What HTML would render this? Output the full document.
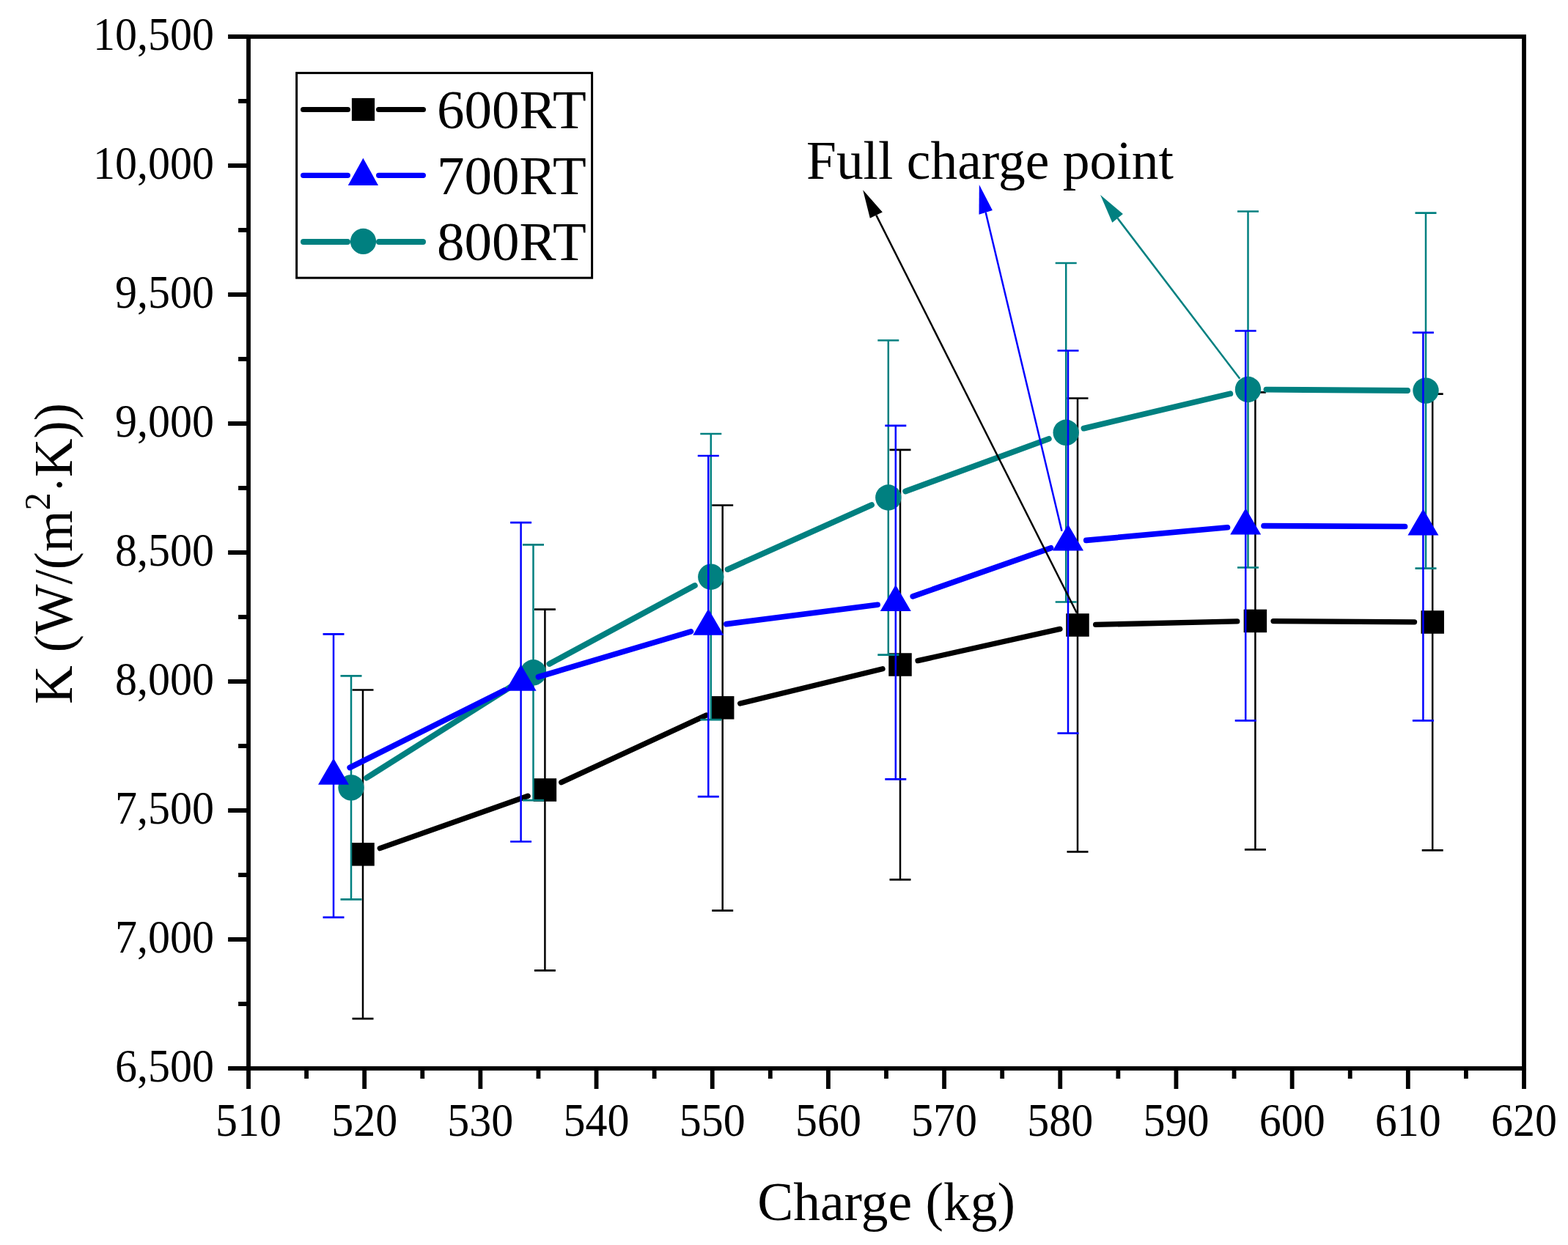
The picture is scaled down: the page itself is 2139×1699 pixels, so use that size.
<!DOCTYPE html>
<html><head><meta charset="utf-8"><title>K vs Charge</title>
<style>html,body{margin:0;padding:0;background:#fff;}body{width:2139px;height:1699px;overflow:hidden;}svg{display:block;}text{font-family:"Liberation Serif","Times New Roman",serif;fill:#000;}</style>
</head><body>
<svg width="2139" height="1699" viewBox="0 0 2139 1699">
<rect x="0" y="0" width="2139" height="1699" fill="#fff"/>
<path d="M518.24 1157.63L720.16 1086.22M765.77 1067.64L963.33 976.16M1009.65 959.99L1204.05 912.81M1252.06 901.63L1445.94 858.37M1494.64 852.43L1687.76 847.97M1737.05 847.56L1929.55 848.84" stroke="#000000" stroke-width="7.3" stroke-linecap="round" fill="none"/>
<rect x="479.25" y="1150.1" width="31.5" height="31.5" fill="#000"/>
<rect x="727.65" y="1062.25" width="31.5" height="31.5" fill="#000"/>
<rect x="969.95" y="950.05" width="31.5" height="31.5" fill="#000"/>
<rect x="1212.25" y="891.25" width="31.5" height="31.5" fill="#000"/>
<rect x="1454.25" y="837.25" width="31.5" height="31.5" fill="#000"/>
<rect x="1696.65" y="831.65" width="31.5" height="31.5" fill="#000"/>
<rect x="1938.45" y="833.25" width="31.5" height="31.5" fill="#000"/>
<path d="M495 941.5L495 1390.2M743.4 831.6L743.4 1324.3M985.7 689.5L985.7 1242.6M1228 613.8L1228 1200.3M1470 543.5L1470 1162.4M1712.4 535.3L1712.4 1159.4M1954.2 537.6L1954.2 1160.4" stroke="#000000" stroke-width="2.5" fill="none"/>
<path d="M480.5 941.5L509.5 941.5M480.5 1390.2L509.5 1390.2M728.9 831.6L757.9 831.6M728.9 1324.3L757.9 1324.3M971.2 689.5L1000.2 689.5M971.2 1242.6L1000.2 1242.6M1213.5 613.8L1242.5 613.8M1213.5 1200.3L1242.5 1200.3M1455.5 543.5L1484.5 543.5M1455.5 1162.4L1484.5 1162.4M1697.9 535.3L1726.9 535.3M1697.9 1159.4L1726.9 1159.4M1939.7 537.6L1968.7 537.6M1939.7 1160.4L1968.7 1160.4" stroke="#000000" stroke-width="2.7" fill="none"/>
<path d="M500.09 1061.52L706.41 931.13M749.46 905.96L947.84 799.04M992.58 777.02L1189.02 689.18M1235.23 670.43L1430.77 598.87M1478.48 584.55L1678.22 537.25M1727.45 531.66L1920.05 532.94" stroke="#008080" stroke-width="7.9" stroke-linecap="round" fill="none"/>
<circle cx="479" cy="1074.85" r="17.7" fill="#008080"/>
<circle cx="727.5" cy="917.8" r="17.7" fill="#008080"/>
<circle cx="969.8" cy="787.2" r="17.7" fill="#008080"/>
<circle cx="1211.8" cy="679" r="17.7" fill="#008080"/>
<circle cx="1454.2" cy="590.3" r="17.7" fill="#008080"/>
<circle cx="1702.5" cy="531.5" r="17.7" fill="#008080"/>
<circle cx="1945" cy="533.1" r="17.7" fill="#008080"/>
<path d="M479 922.4L479 1227.3M727.5 743.4L727.5 1092.2M969.8 592L969.8 982.2M1211.8 464.5L1211.8 893.6M1454.2 359L1454.2 821.5M1702.5 288.5L1702.5 774.5M1945 290.6L1945 775.6" stroke="#008080" stroke-width="2.5" fill="none"/>
<path d="M464.5 922.4L493.5 922.4M464.5 1227.3L493.5 1227.3M713 743.4L742 743.4M713 1092.2L742 1092.2M955.3 592L984.3 592M955.3 982.2L984.3 982.2M1197.3 464.5L1226.3 464.5M1197.3 893.6L1226.3 893.6M1439.7 359L1468.7 359M1439.7 821.5L1468.7 821.5M1688 288.5L1717 288.5M1688 774.5L1717 774.5M1930.5 290.6L1959.5 290.6M1930.5 775.6L1959.5 775.6" stroke="#008080" stroke-width="2.7" fill="none"/>
<path d="M477.22 1047.53L688.38 941.92M734.42 923.72L942.48 861.88M990.95 851.65L1197.15 825.25M1245.25 813.87L1433.55 747.83M1481.75 737.34L1674.45 719.76M1724.05 717.61L1916.55 718.49" stroke="#0000ff" stroke-width="7.7" stroke-linecap="round" fill="none"/>
<path d="M455 1034.65L476 1070.65L434 1070.65Z" fill="#0000ff"/>
<path d="M710.6 906.8L731.6 942.8L689.6 942.8Z" fill="#0000ff"/>
<path d="M966.3 830.8L987.3 866.8L945.3 866.8Z" fill="#0000ff"/>
<path d="M1221.8 798.1L1242.8 834.1L1200.8 834.1Z" fill="#0000ff"/>
<path d="M1457 715.6L1478 751.6L1436 751.6Z" fill="#0000ff"/>
<path d="M1699.2 693.5L1720.2 729.5L1678.2 729.5Z" fill="#0000ff"/>
<path d="M1941.4 694.6L1962.4 730.6L1920.4 730.6Z" fill="#0000ff"/>
<path d="M455 865.4L455 1251.9M710.6 713.1L710.6 1148.5M966.3 622L966.3 1087.2M1221.8 580.8L1221.8 1063.4M1457 478.5L1457 1000.7M1699.2 451.5L1699.2 983.4M1941.4 453.8L1941.4 983.4" stroke="#0000ff" stroke-width="2.5" fill="none"/>
<path d="M440.5 865.4L469.5 865.4M440.5 1251.9L469.5 1251.9M696.1 713.1L725.1 713.1M696.1 1148.5L725.1 1148.5M951.8 622L980.8 622M951.8 1087.2L980.8 1087.2M1207.3 580.8L1236.3 580.8M1207.3 1063.4L1236.3 1063.4M1442.5 478.5L1471.5 478.5M1442.5 1000.7L1471.5 1000.7M1684.7 451.5L1713.7 451.5M1684.7 983.4L1713.7 983.4M1926.9 453.8L1955.9 453.8M1926.9 983.4L1955.9 983.4" stroke="#0000ff" stroke-width="2.7" fill="none"/>
<path d="M1468.9 836.5L1195.3 293.65" stroke="#000000" stroke-width="2.5" fill="none"/>
<path d="M1177.2 259.2L1186.8 297.8L1203.8 289.5Z" fill="#000000"/>
<path d="M1448.5 724.8L1344.7 289.95" stroke="#0000ff" stroke-width="2.5" fill="none"/>
<path d="M1335.8 252L1335.5 292.8L1353.9 287.1Z" fill="#0000ff"/>
<path d="M1691.3 516.8L1524.6 297.85" stroke="#008080" stroke-width="2.5" fill="none"/>
<path d="M1501.1 266.1L1517.3 303.7L1531.9 292Z" fill="#008080"/>
<rect x="339" y="50" width="1740" height="1408" fill="none" stroke="#000" stroke-width="5.8"/>
<path d="M339 1458L339 1485.9M418.09 1458L418.09 1471.9M497.18 1458L497.18 1485.9M576.27 1458L576.27 1471.9M655.36 1458L655.36 1485.9M734.45 1458L734.45 1471.9M813.55 1458L813.55 1485.9M892.64 1458L892.64 1471.9M971.73 1458L971.73 1485.9M1050.82 1458L1050.82 1471.9M1129.91 1458L1129.91 1485.9M1209 1458L1209 1471.9M1288.09 1458L1288.09 1485.9M1367.18 1458L1367.18 1471.9M1446.27 1458L1446.27 1485.9M1525.36 1458L1525.36 1471.9M1604.45 1458L1604.45 1485.9M1683.55 1458L1683.55 1471.9M1762.64 1458L1762.64 1485.9M1841.73 1458L1841.73 1471.9M1920.82 1458L1920.82 1485.9M1999.91 1458L1999.91 1471.9M2079 1458L2079 1485.9M339 1458L311.1 1458M339 1370L325.1 1370M339 1282L311.1 1282M339 1194L325.1 1194M339 1106L311.1 1106M339 1018L325.1 1018M339 930L311.1 930M339 842L325.1 842M339 754L311.1 754M339 666L325.1 666M339 578L311.1 578M339 490L325.1 490M339 402L311.1 402M339 314L325.1 314M339 226L311.1 226M339 138L325.1 138M339 50L311.1 50" stroke="#000" stroke-width="5.8" fill="none"/>
<text transform="translate(339 1549.6) scale(0.96 1)" font-size="62.5" text-anchor="middle">510</text>
<text transform="translate(497.18 1549.6) scale(0.96 1)" font-size="62.5" text-anchor="middle">520</text>
<text transform="translate(655.36 1549.6) scale(0.96 1)" font-size="62.5" text-anchor="middle">530</text>
<text transform="translate(813.55 1549.6) scale(0.96 1)" font-size="62.5" text-anchor="middle">540</text>
<text transform="translate(971.73 1549.6) scale(0.96 1)" font-size="62.5" text-anchor="middle">550</text>
<text transform="translate(1129.91 1549.6) scale(0.96 1)" font-size="62.5" text-anchor="middle">560</text>
<text transform="translate(1288.09 1549.6) scale(0.96 1)" font-size="62.5" text-anchor="middle">570</text>
<text transform="translate(1446.27 1549.6) scale(0.96 1)" font-size="62.5" text-anchor="middle">580</text>
<text transform="translate(1604.45 1549.6) scale(0.96 1)" font-size="62.5" text-anchor="middle">590</text>
<text transform="translate(1762.64 1549.6) scale(0.96 1)" font-size="62.5" text-anchor="middle">600</text>
<text transform="translate(1920.82 1549.6) scale(0.96 1)" font-size="62.5" text-anchor="middle">610</text>
<text transform="translate(2079 1549.6) scale(0.96 1)" font-size="62.5" text-anchor="middle">620</text>
<text transform="translate(292 1476) scale(0.96 1)" font-size="62.5" text-anchor="end">6,500</text>
<text transform="translate(292 1300) scale(0.96 1)" font-size="62.5" text-anchor="end">7,000</text>
<text transform="translate(292 1124) scale(0.96 1)" font-size="62.5" text-anchor="end">7,500</text>
<text transform="translate(292 948) scale(0.96 1)" font-size="62.5" text-anchor="end">8,000</text>
<text transform="translate(292 772) scale(0.96 1)" font-size="62.5" text-anchor="end">8,500</text>
<text transform="translate(292 596) scale(0.96 1)" font-size="62.5" text-anchor="end">9,000</text>
<text transform="translate(292 420) scale(0.96 1)" font-size="62.5" text-anchor="end">9,500</text>
<text transform="translate(292 244) scale(0.96 1)" font-size="62.5" text-anchor="end">10,000</text>
<text transform="translate(292 68) scale(0.96 1)" font-size="62.5" text-anchor="end">10,500</text>
<text transform="translate(1209 1665.2) scale(0.98 1)" font-size="75" text-anchor="middle">Charge (kg)</text>
<text transform="translate(97.5 755.5) rotate(-90) scale(0.969 1)" x="0" y="0" font-size="75" text-anchor="middle">K (W/(m<tspan dy="-30" font-size="50">2</tspan><tspan dy="35" font-size="66">&#183;</tspan><tspan dy="-5">K))</tspan></text>
<rect x="404.6" y="99.6" width="403" height="279.6" fill="none" stroke="#000" stroke-width="3"/>
<path d="M413.5 149.4L474.5 149.4M516.5 149.4L577.5 149.4" stroke="#000000" stroke-width="7" stroke-linecap="round" fill="none"/>
<path d="M413.6 239.3L474.4 239.3M516.6 239.3L577.4 239.3" stroke="#0000ff" stroke-width="7.2" stroke-linecap="round" fill="none"/>
<path d="M414 330L474 330M517 330L577 330" stroke="#008080" stroke-width="8" stroke-linecap="round" fill="none"/>
<rect x="479.9" y="133.9" width="31.2" height="31" fill="#000"/>
<path d="M495.4 215.7L516 252.9L474.8 252.9Z" fill="#0000ff"/>
<circle cx="495.5" cy="329.4" r="17.6" fill="#008080"/>
<text x="596" y="174.6" font-size="75">600RT</text>
<text x="596" y="264.5" font-size="75">700RT</text>
<text x="596" y="354.5" font-size="75">800RT</text>
<text transform="translate(1100 244.2) scale(0.98 1)" font-size="75" text-anchor="start">Full charge point</text>
</svg>
</body></html>
